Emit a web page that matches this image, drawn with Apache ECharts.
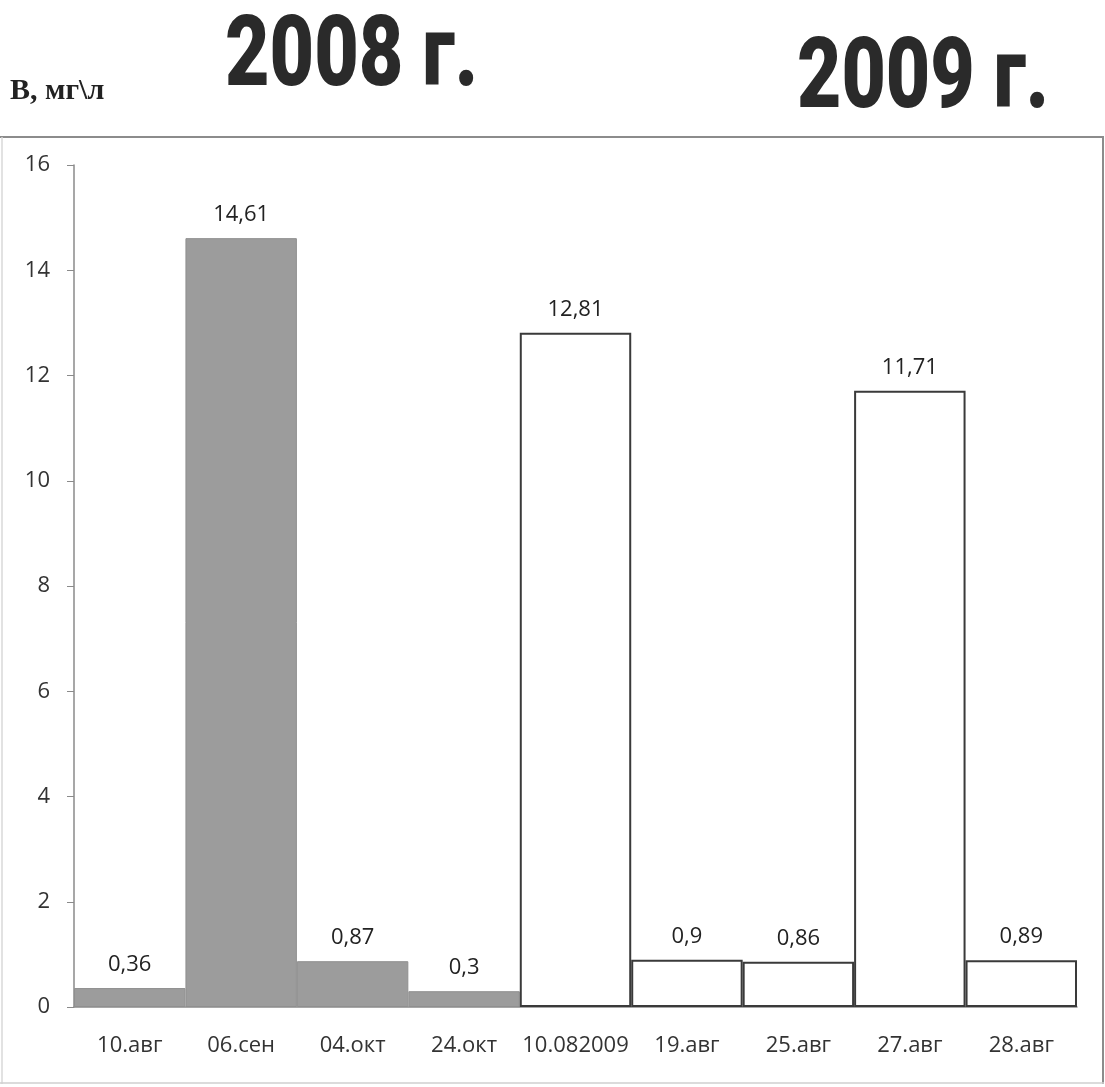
<!DOCTYPE html>
<html>
<head>
<meta charset="utf-8">
<script src="https://cdn.jsdelivr.net/npm/echarts@6/dist/echarts.min.js"></script>
<style>
  html, body { margin: 0; padding: 0; background: #fff; }
  #chart { width: 1105px; height: 1087px; }
</style>
</head>
<body>
<div id="chart"></div>
<script>
// Sampling dates
const categories = ['10.авг', '06.сен', '04.окт', '24.окт', '10.082009', '19.авг', '25.авг', '27.авг', '28.авг'];
// B, mg/l — 2008 (first four dates) and 2009 (rest)
const values2008 = [0.36, 14.61, 0.87, 0.3, null, null, null, null, null];
const values2009 = [null, null, null, null, 12.81, 0.9, 0.86, 11.71, 0.89];
const yTicks = [0, 2, 4, 6, 8, 10, 12, 14, 16];

const chart = echarts.init(document.getElementById('chart'));
const labelFont = "'Open Sans', 'Noto Sans', sans-serif";
const yearFont = "900 98px Roboto, 'Liberation Sans', sans-serif";
const commaFmt = p => String(p.value).replace('.', ',');

// Heavy condensed year headings: squeeze the glyphs to a fixed run width
const ctx = document.createElement('canvas').getContext('2d');
ctx.font = yearFont;
function yearHeading(text, x, yMid, width) {
  const w = ctx.measureText(text).width;
  return {
    type: 'text', x: x, y: yMid, scaleX: width / w, scaleY: 1,
    style: { text: text, font: yearFont, fill: '#2a2a2a', verticalAlign: 'middle', align: 'left' }
  };
}

chart.setOption({
  animation: false,
  backgroundColor: '#fff',
  graphic: [
    { type: 'line', shape: { x1: 0, y1: 137, x2: 1104, y2: 137 }, style: { stroke: '#8c8c8c', lineWidth: 2 } },
    { type: 'line', shape: { x1: 1103, y1: 137, x2: 1103, y2: 1084 }, style: { stroke: '#8c8c8c', lineWidth: 2 } },
    { type: 'line', shape: { x1: 2, y1: 137, x2: 2, y2: 1084 }, style: { stroke: '#d8d8d8', lineWidth: 1.5 } },
    { type: 'line', shape: { x1: 0, y1: 1083, x2: 1104, y2: 1083 }, style: { stroke: '#cfcfcf', lineWidth: 1.5 } },
    { type: 'text', x: 10, y: 91,
      style: { text: 'В, мг\\л', font: "bold 30px 'Liberation Serif', serif", fill: '#222', verticalAlign: 'middle' } },
    yearHeading('2008 г.', 225, 60, 253),
    yearHeading('2009 г.', 797, 82, 252)
  ],
  grid: { left: 74, right: 28, top: 165, bottom: 80 },
  xAxis: {
    type: 'category',
    data: categories,
    axisLine: { lineStyle: { color: '#8a8a8a', width: 1.5 } },
    axisTick: { show: false },
    axisLabel: { margin: 28, fontSize: 22, color: '#333', fontFamily: labelFont, interval: 0 }
  },
  yAxis: {
    type: 'value',
    min: 0, max: 16, interval: 2,
    axisLine: { show: true, lineStyle: { color: '#8a8a8a', width: 1.5 } },
    axisTick: { show: true, length: 7, lineStyle: { color: '#8a8a8a' } },
    splitLine: { show: false },
    axisLabel: { margin: 24, fontSize: 22, color: '#333', fontFamily: labelFont,
      formatter: v => yTicks.includes(v) ? String(v) : '' }
  },
  series: [
    {
      name: '2008', type: 'bar', data: values2008, stack: 'b',
      barWidth: '100%', barCategoryGap: 0,
      itemStyle: { color: '#9c9c9c', borderColor: '#8f8f8f', borderWidth: 1 },
      label: { show: true, position: 'top', distance: 12, fontSize: 22, color: '#222',
        fontFamily: labelFont, formatter: commaFmt }
    },
    {
      name: '2009', type: 'bar', data: values2009, stack: 'b',
      barWidth: '100%', barCategoryGap: 0,
      itemStyle: { color: '#fff', borderColor: '#3a3a3a', borderWidth: 2 },
      label: { show: true, position: 'top', distance: 12, fontSize: 22, color: '#222',
        fontFamily: labelFont, formatter: commaFmt }
    }
  ]
});
</script>
</body>
</html>
